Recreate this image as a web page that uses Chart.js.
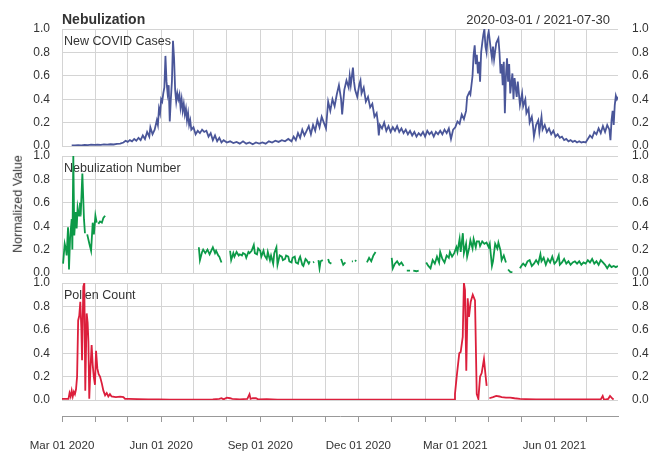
<!DOCTYPE html>
<html>
<head>
<meta charset="utf-8">
<script src="https://cdn.jsdelivr.net/npm/chart.js@4.4.0/dist/chart.umd.min.js"></script>
<style>
  body { margin: 0; background: #fff; }
  #wrap { position: relative; width: 651px; height: 452px; font-family: "Liberation Sans", Arial, sans-serif; color: #333; }
  #wrap canvas { position: absolute; left: 0; top: 0; }
  .title { position: absolute; left: 62px; top: 12px; font-size: 14px; line-height: 1; font-weight: bold; }
  .range { position: absolute; right: 41px; top: 13px; font-size: 13px; line-height: 1; }
  .ylab { position: absolute; left: 18px; top: 204px; font-size: 12.5px; line-height: 1; white-space: nowrap; transform: translate(-50%, -50%) rotate(-90deg); }
</style>
</head>
<body>
<div id="wrap">
  <canvas id="covid" width="651" height="452"></canvas>
  <canvas id="nebu" width="651" height="452"></canvas>
  <canvas id="pollen" width="651" height="452"></canvas>
  <canvas id="axis" width="651" height="452"></canvas>
  <div class="title">Nebulization</div>
  <div class="range">2020-03-01 / 2021-07-30</div>
  <div class="ylab">Normalized Value</div>
</div>
<script>
// dias contados desde 2020-03-01 (dia 0) hasta 2021-07-30 (dia 516)
const monthTicks = [0, 31, 61, 92, 122, 153, 184, 214, 245, 275, 306, 337, 365, 396, 426, 457, 487];
const monthLabels = ['Mar 01 2020', '', '', 'Jun 01 2020', '', '', 'Sep 01 2020', '', '', 'Dec 01 2020', '', '',
                     'Mar 01 2021', '', '', 'Jun 01 2021', ''];
const yTicks = [0, 0.2, 0.4, 0.6, 0.8, 1.0];

// [dia, valor normalizado]
const covidSeries = [
  [9,0.005],[12,0.005],[15,0.008],[18,0.006],[21,0.01],[24,0.008],[27,0.012],[30,0.01],[33,0.012],[36,0.01],
  [39,0.014],[42,0.012],[45,0.015],[48,0.013],[51,0.018],[54,0.02],[57,0.03],[59,0.045],[61,0.035],[63,0.05],
  [65,0.04],[67,0.06],[69,0.045],[71,0.07],[73,0.05],[75,0.09],[77,0.06],[79,0.12],[81,0.08],[82,0.16],
  [84,0.1],[86,0.14],[88,0.22],[89,0.18],[90,0.32],[91,0.28],[92,0.4],[93,0.38],[94,0.45],[95,0.5],
  [96,0.77],[97,0.55],[98,0.45],[99,0.52],[100,0.21],[101,0.4],[102,0.55],[103,0.9],[104,0.75],[105,0.48],
  [106,0.38],[107,0.45],[108,0.4],[109,0.44],[110,0.33],[111,0.4],[112,0.3],[113,0.36],[114,0.27],[115,0.32],
  [116,0.22],[117,0.28],[118,0.18],[119,0.22],[120,0.14],[122,0.16],[124,0.1],[126,0.13],[128,0.11],[130,0.14],
  [132,0.12],[134,0.13],[136,0.08],[138,0.11],[140,0.05],[142,0.09],[144,0.04],[146,0.07],[148,0.03],[150,0.05],
  [153,0.03],[156,0.04],[159,0.025],[162,0.035],[165,0.02],[168,0.04],[171,0.02],[174,0.03],[177,0.015],[180,0.03],
  [183,0.02],[186,0.03],[189,0.02],[192,0.04],[195,0.03],[198,0.045],[201,0.035],[204,0.05],[207,0.04],[210,0.06],
  [213,0.04],[215,0.08],[217,0.05],[219,0.11],[221,0.07],[223,0.14],[225,0.09],[227,0.13],[229,0.17],[231,0.1],
  [233,0.18],[235,0.13],[237,0.22],[239,0.16],[241,0.25],[243,0.2],[245,0.15],[247,0.38],[249,0.3],[251,0.4],
  [253,0.34],[255,0.44],[257,0.52],[259,0.4],[260,0.27],[262,0.48],[264,0.56],[266,0.5],[267,0.6],[268,0.52],
  [270,0.67],[271,0.55],[272,0.48],[274,0.42],[276,0.53],[277,0.56],[278,0.45],[280,0.5],[282,0.38],[284,0.42],
  [286,0.33],[288,0.36],[290,0.25],[292,0.28],[293,0.21],[294,0.09],[295,0.18],[297,0.15],[299,0.2],[301,0.13],
  [303,0.17],[305,0.12],[307,0.16],[309,0.13],[311,0.17],[313,0.12],[315,0.15],[317,0.11],[319,0.14],[321,0.1],
  [323,0.13],[325,0.09],[327,0.12],[329,0.08],[331,0.11],[333,0.09],[335,0.12],[337,0.08],[339,0.13],[341,0.1],
  [343,0.12],[345,0.08],[347,0.12],[349,0.1],[351,0.13],[353,0.1],[355,0.14],[357,0.11],[359,0.15],[361,0.06],
  [363,0.14],[365,0.16],[367,0.21],[369,0.19],[371,0.27],[373,0.23],[375,0.3],[376,0.42],[378,0.46],[379,0.44],
  [381,0.6],[382,0.78],[383,0.86],[384,0.7],[385,0.78],[386,0.62],[387,0.72],[388,0.55],[389,0.8],[390,0.88],
  [391,0.95],[392,1.0],[393,0.85],[394,0.8],[395,0.93],[396,0.98],[397,0.9],[398,0.82],[399,0.75],[400,0.85],
  [401,0.74],[403,0.88],[405,0.92],[406,0.8],[407,0.62],[408,0.7],[409,0.52],[410,0.72],[411,0.28],[412,0.6],
  [413,0.75],[414,0.55],[415,0.7],[416,0.45],[418,0.62],[419,0.4],[420,0.58],[422,0.42],[423,0.55],[425,0.35],
  [427,0.45],[428,0.34],[430,0.4],[431,0.28],[433,0.32],[434,0.2],[436,0.25],[437,0.18],[438,0.08],[440,0.18],
  [442,0.22],[443,0.12],[445,0.25],[446,0.14],[448,0.18],[450,0.12],[452,0.15],[454,0.1],[456,0.13],[458,0.08],
  [460,0.1],[462,0.07],[464,0.08],[466,0.05],[468,0.06],[470,0.04],[472,0.05],[474,0.035],[476,0.045],[478,0.03],
  [480,0.04],[482,0.03],[484,0.035],[486,0.03],[488,0.06],[490,0.09],[492,0.07],[494,0.12],[496,0.1],[498,0.15],
  [500,0.11],[502,0.17],[504,0.12],[506,0.18],[508,0.14],[509,0.05],[510,0.22],[511,0.3],[512,0.18],[513,0.35],
  [514,0.43],[515,0.4],[516,0.42]
];

// null = dia sin registro (hueco en la linea)
const nebulizationSeries = [
  [1,0.08],[2.5,0.25],[3.7,0.2],[4.3,0.15],[5.6,0.39],[6.5,0.03],[7.5,0.3],[9,0.46],[9.6,0.2],[10.5,1.0],
  [11.4,0.32],[12.7,0.52],[13.6,0.38],[14.5,0.56],[15.8,0.49],[16.7,0.6],[17.6,0.55],[18.9,0.85],[20.4,0.46],[21.3,0.34],
  [22.3,null],[23.4,0.33],[25.4,0.25],[27,0.19],[28.5,0.43],[29.6,0.33],[31,0.49],[32.2,0.43],[33,null],[33.7,0.42],
  [35.3,0.44],[37,0.43],[38.4,0.47],[40,0.49],[80,null],
  [127,0.22],[128,0.11],[130,0.18],[131,0.2],[133,0.17],[135,0.2],[137,0.16],[139,0.2],[140,0.22],[142,0.17],
  [143,0.19],[145,0.15],[146,0.14],[148,0.09],[152,null],[156,0.19],[157,0.11],[159,0.17],[160,0.14],[162,0.18],
  [164,0.15],[165,0.16],[167,0.15],[168,0.17],[170,0.16],[171,0.13],[173,0.18],[174,0.17],[176,0.19],[178,0.24],
  [179,0.17],[181,0.16],[182,0.21],[184,0.19],[185,0.14],[187,0.19],[188,0.15],[190,0.12],[191,0.18],[193,0.11],
  [194,0.15],[196,0.08],[197,0.17],[199,0.22],[200,0.07],[202,0.15],[204,0.14],[205,0.11],[207,0.12],[208,0.15],
  [210,0.14],[211,0.1],[213,0.09],[214,0.13],[216,0.14],[217,0.09],[219,0.08],[220,0.12],[221,0.14],[223,0.07],
  [224,0.06],[226,0.12],[227,0.11],[229,0.08],[230,0.1],[232,null],[233,0.09],[234,0.095],[236,null],[238,0.11],
  [239,0.04],[240,0.1],[242,0.11],[244,null],[247,0.12],[248,0.09],[250,0.08],[254,null],[259,0.12],[261,0.07],
  [263,0.09],[266,null],[269,0.1],[270,0.1],[271,null],[272,0.11],[273,0.1],[278,null],[283,0.09],[285,0.13],
  [287,0.1],[289,0.15],[291,0.18],[298,null],[306,0.13],[307,0.04],[309,0.08],[311,0.1],[313,0.07],[315,0.09],
  [317,0.06],[318,null],[320,0.02],[323,0.02],[325,null],[326,0.02],[329,0.015],[331,0.02],[335,null],[338,0.09],
  [340,0.06],[342,0.04],[344,0.11],[346,0.08],[348,0.14],[350,0.09],[351,0.18],[353,0.12],[355,0.09],[357,0.15],
  [359,0.13],[360,0.18],[362,0.14],[364,0.17],[366,0.22],[367,0.18],[369,0.29],[370,0.18],[372,0.34],[373,0.17],
  [375,0.25],[376,0.14],[378,0.22],[379,0.28],[381,0.21],[382,0.29],[384,0.22],[385,0.27],[387,0.27],[388,0.23],
  [390,0.27],[392,0.25],[394,0.26],[396,0.22],[397,0.25],[399,0.06],[400,0.1],[402,0.25],[404,0.21],[405,0.26],
  [407,0.19],[408,0.11],[410,0.15],[412,0.09],[413,null],[414,0.03],[416,0.01],[418,0.005],[421,null],[425,0.04],
  [427,0.07],[428,0.08],[430,0.06],[432,0.1],[434,0.11],[436,0.06],[438,0.08],[440,0.11],[442,0.08],[444,0.16],
  [445,0.1],[447,0.13],[449,0.07],[451,0.12],[453,0.09],[455,0.14],[457,0.08],[459,0.1],[461,0.15],[462,0.07],
  [464,0.09],[466,0.12],[468,0.08],[470,0.1],[472,0.07],[474,0.09],[476,0.1],[478,0.08],[480,0.1],[482,0.07],
  [484,0.09],[486,0.08],[488,0.11],[490,0.09],[492,0.12],[494,0.08],[496,0.1],[498,0.07],[500,0.11],[502,0.09],
  [504,0.07],[506,0.04],[508,0.07],[510,0.05],[512,0.06],[514,0.05],[516,0.06]
];

const pollenSeries = [
  [0,0.01],[3,0.01],[6,0.01],[7,0.06],[8,0.03],[9,0.08],[10,0.03],[11,0.07],[12,0.05],[13,0.09],
  [14,0.2],[15,0.68],[16,0.72],[17,0.84],[18,0.6],[18.6,0.34],[19.8,0.97],[20.7,1.0],[21.6,0.08],[22.9,0.74],
  [23.8,0.66],[24.5,0.5],[25.3,0.01],[26.3,0.25],[27.5,0.47],[28.5,0.3],[29.5,0.2],[30.6,0.13],[31.6,0.42],[32.8,0.27],
  [34,0.22],[35.3,0.2],[37,0.14],[38.4,0.08],[40,0.04],[41.5,0.06],[43,0.03],[44.5,0.05],[46,0.03],[50,0.025],
  [54,0.028],[57,0.025],[58.5,0.01],[62,0.01],[70,0.008],[80,0.006],[90,0.005],[100,0.004],[120,0.004],[140,0.005],
  [146,0.01],[148,0.015],[150,0.005],[153,0.02],[156,0.015],[158,0.01],[165,0.006],[172,0.01],[174,0.05],[175,0.01],
  [177,0.015],[180,0.015],[182,0.005],[190,0.008],[200,0.004],[230,0.003],[260,0.003],[300,0.003],[340,0.003],[364,0.003],
  [364.7,0.05],[366.3,0.2],[368.7,0.4],[370,0.41],[371.9,0.54],[373,1.0],[374,0.94],[375.2,0.25],[376.5,0.87],[377.7,0.71],
  [379.3,0.84],[381.2,0.9],[383.3,0.85],[384.9,0.05],[386.4,0.01],[388,0.2],[389.5,0.23],[391.6,0.35],[393.2,0.2],[394.1,0.12],
  [395,null],[396.6,0.015],[400,0.025],[403,0.035],[406,0.03],[408,0.025],[412,0.02],[416,0.02],[420,0.015],[425,0.01],
  [430,0.008],[440,0.006],[460,0.005],[480,0.005],[500,0.005],[501.8,0.035],[503,0.002],[507,0.01],[508.6,0.035],[511,0.01],
  [512,0.005]
];

Chart.defaults.font.family = '"Liberation Sans", Arial, sans-serif';
Chart.defaults.color = '#333';

const gridColor = '#d4d4d4';

// Etiqueta dentro de cada panel
const panelLabel = {
  id: 'panelLabel',
  beforeDatasetsDraw(chart, args, opts) {
    const { ctx, chartArea } = chart;
    ctx.save();
    ctx.font = '12.5px "Liberation Sans", Arial, sans-serif';
    ctx.fillStyle = '#333';
    ctx.textBaseline = 'alphabetic';
    ctx.fillText(opts.text, chartArea.left + 2, chartArea.top + 16);
    ctx.restore();
  }
};

const setMonthTicks = (scale) => {
  scale.ticks = monthTicks.map(v => ({ value: v }));
};

function yAxis(position, width, pad) {
  return {
    position: position,
    min: 0,
    max: 1,
    afterBuildTicks: (scale) => { scale.ticks = yTicks.map(v => ({ value: v })); },
    ticks: {
      padding: pad,
      color: '#333',
      font: { size: 12 },
      callback: (value) => value.toFixed(1)
    },
    grid: { display: position === 'left', color: gridColor, drawTicks: false },
    border: { display: false },
    afterFit: (scale) => { scale.width = width; scale.paddingTop = 0; scale.paddingBottom = 0; }
  };
}

function makePanel(id, series, color, label, top, bottom) {
  const ctx = document.getElementById(id).getContext('2d');
  return new Chart(ctx, {
    type: 'line',
    data: {
      datasets: [{
        data: series.map(p => ({ x: p[0], y: p[1] })),
        borderColor: color,
        borderWidth: 1.8,
        pointRadius: 0,
        tension: 0,
        spanGaps: false,
        yAxisID: 'y'
      }]
    },
    options: {
      responsive: false,
      animation: false,
      layout: { padding: { top: top, bottom: 452 - bottom, left: 0, right: 0 } },
      plugins: {
        legend: { display: false },
        tooltip: { enabled: false },
        panelLabel: { text: label }
      },
      scales: {
        x: {
          type: 'linear',
          min: 0,
          max: 516,
          afterBuildTicks: setMonthTicks,
          ticks: { display: false },
          grid: { color: gridColor, drawTicks: false },
          border: { display: false },
          afterFit: (scale) => { scale.height = 0; scale.paddingLeft = 0; scale.paddingRight = 0; }
        },
        y: yAxis('left', 62, 12),
        y2: yAxis('right', 33, 14)
      }
    },
    plugins: [panelLabel]
  });
}

makePanel('covid', covidSeries, '#4a5699', 'New COVID Cases', 29, 146);
makePanel('nebu', nebulizationSeries, '#0c9a48', 'Nebulization Number', 156, 273);
makePanel('pollen', pollenSeries, '#dc1f3c', 'Pollen Count', 283, 400);

// Eje de fechas inferior
new Chart(document.getElementById('axis').getContext('2d'), {
  type: 'line',
  data: { datasets: [] },
  options: {
    responsive: false,
    animation: false,
    layout: { padding: { top: 380, bottom: 0, left: 62, right: 33 } },
    plugins: { legend: { display: false }, tooltip: { enabled: false } },
    scales: {
      x: {
        type: 'linear',
        min: 0,
        max: 516,
        afterBuildTicks: setMonthTicks,
        ticks: {
          autoSkip: false,
          maxRotation: 0,
          padding: 17,
          color: '#333',
          font: { size: 11.5 },
          callback: (value, index) => monthLabels[index]
        },
        grid: { drawOnChartArea: false, drawTicks: true, tickLength: 6, color: '#999' },
        border: { display: true, color: '#999' },
        afterFit: (scale) => { scale.height = 36; scale.paddingLeft = 0; scale.paddingRight = 0; }
      },
      y: { display: false }
    }
  }
});
</script>
</body>
</html>
